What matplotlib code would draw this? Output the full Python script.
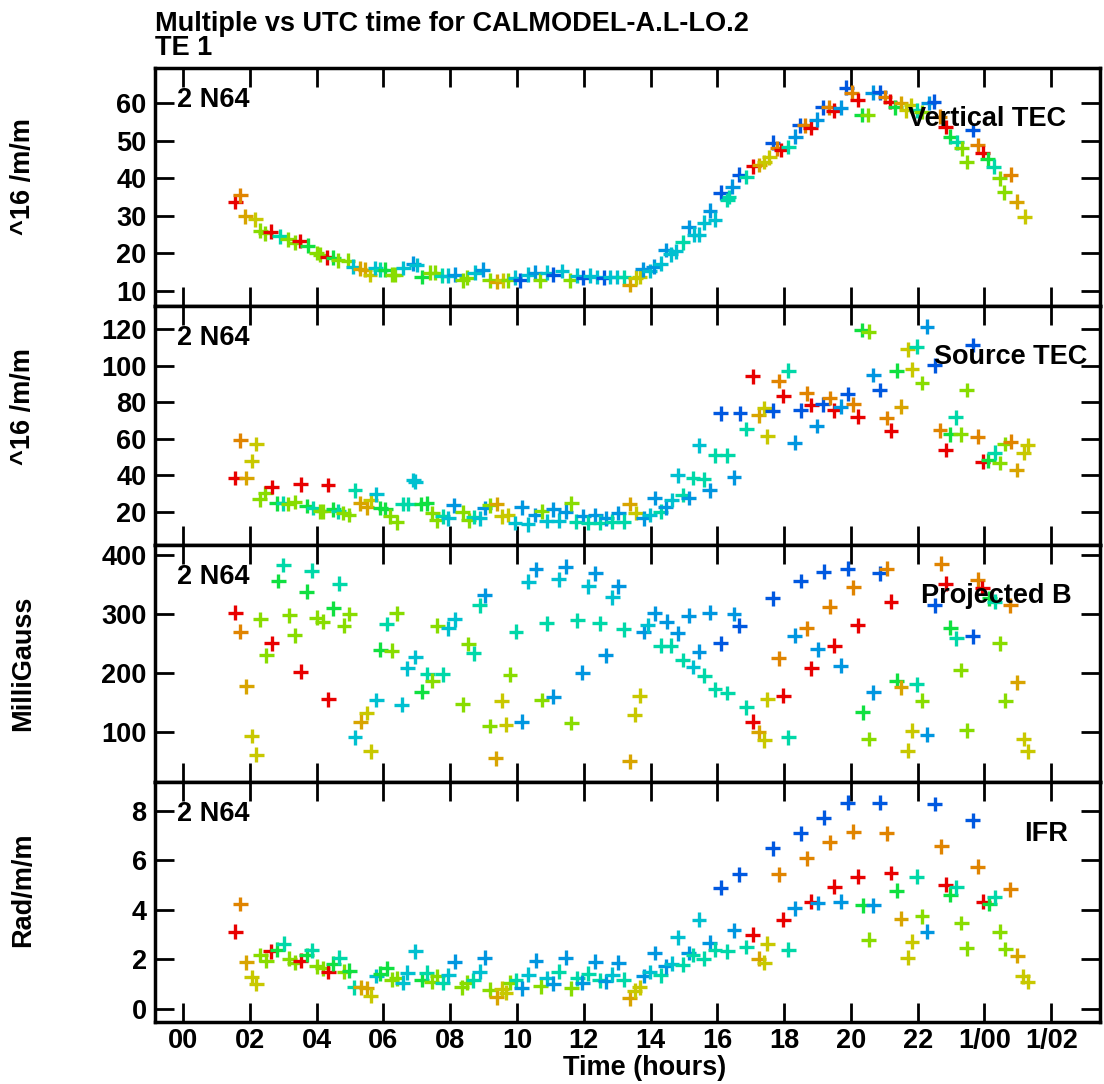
import matplotlib
matplotlib.use("Agg")
import matplotlib.pyplot as plt

plt.rcParams['font.family'] = ['Liberation Sans', 'DejaVu Sans']
plt.rcParams['font.weight'] = 'bold'

# one colour per source / baseline
palette = ['#e80000', '#e08400', '#d8a400', '#c8c800', '#88dc00',
           '#10e040', '#00d8a8', '#00c0d0', '#0096e0', '#0058e0']

# ---- Vertical TEC ----
vtec_t = [1.56, 1.71, 1.86, 2.16, 2.31, 2.46, 2.63, 2.90, 3.14, 3.35, 3.50, 3.74, 4.00, 4.10,
          4.31, 4.50, 4.64, 4.94, 5.10, 5.30, 5.45, 5.60, 5.75, 5.90, 6.05, 6.26, 6.35, 6.60,
          6.89, 7.00, 7.15, 7.40, 7.55, 7.75, 7.93, 8.14, 8.38, 8.50, 8.74, 8.98, 9.19, 9.40,
          9.58, 9.73, 9.94, 10.09, 10.33, 10.54, 10.69, 10.90,
          11.09, 11.35, 11.60, 11.80, 11.98, 12.20, 12.40, 12.60, 12.80, 13.00, 13.20, 13.38,
          13.56, 13.67, 13.77, 13.98, 14.10, 14.30, 14.46, 14.60, 14.76, 14.96, 15.14, 15.30,
          15.45, 15.60, 15.78, 15.93, 16.10, 16.30, 16.35, 16.45, 16.66, 16.87, 17.07, 17.25,
          17.40, 17.55, 17.66, 17.80, 17.92, 18.13, 18.33, 18.47, 18.62, 18.80, 18.98, 19.16,
          19.34, 19.49, 19.69, 19.86, 20.03, 20.20, 20.33, 20.50, 20.65, 20.87, 21.02, 21.17,
          21.33, 21.50, 21.65, 21.80, 21.97, 22.12, 22.33, 22.49, 22.67, 22.84, 22.97, 23.17,
          23.32, 23.47, 23.65, 23.80, 23.95, 24.10, 24.28, 24.46, 24.60, 24.79, 24.96, 25.20]
vtec_v = [33.7, 35.5, 29.9, 29.1, 26.0, 25.4, 25.8, 24.6, 23.8, 22.8, 23.3, 22.0, 20.1, 19.6,
          19.0, 18.8, 18.2, 18.0, 16.4, 15.9, 15.6, 14.3, 16.1, 15.6, 15.6, 14.3, 14.3, 16.1,
          17.2, 16.9, 13.7, 14.8, 14.8, 14.0, 14.0, 14.3, 12.9, 13.5, 14.8, 15.6, 12.9, 12.4,
          12.9, 12.9, 13.5, 12.9, 14.3, 14.8, 12.9, 14.8,
          14.3, 15.3, 12.9, 14.0, 13.5, 14.0, 13.7, 13.5, 13.7, 13.7, 13.7, 11.6,
          13.5, 13.7, 15.8, 15.3, 16.4, 17.2, 20.9, 19.8, 20.6, 23.0, 27.0, 24.9,
          24.9, 28.1, 31.3, 28.9, 36.1, 34.2, 35.0, 37.7, 40.9, 40.3, 43.2, 43.5,
          44.3, 45.6, 49.4, 48.0, 47.5, 48.3, 51.0, 54.1, 54.1, 53.4, 55.5, 58.9,
          58.9, 57.9, 58.7, 64.0, 62.7, 60.8, 56.8, 56.8, 62.7, 62.9, 61.6, 60.3,
          58.9, 60.0, 58.1, 59.4, 58.1, 57.6, 60.0, 60.3, 56.3, 53.6, 51.0, 49.6,
          48.0, 44.3, 52.8, 48.8, 46.7, 45.1, 43.0, 40.0, 36.3, 40.9, 33.7, 29.7]
vtec_c = [0, 1, 2, 3, 4, 4, 0, 6, 4, 4, 0, 5, 4, 4,
          0, 5, 4, 4, 7, 2, 2, 3, 7, 6, 5, 4, 4, 7,
          8, 7, 5, 4, 4, 6, 7, 8, 4, 4, 7, 8, 4, 2,
          3, 4, 7, 9, 7, 8, 4, 7,
          9, 7, 4, 7, 9, 7, 7, 9, 7, 7, 6, 2,
          3, 3, 8, 7, 8, 7, 8, 7, 7, 6, 8, 7,
          7, 7, 8, 7, 9, 6, 6, 8, 9, 6, 0, 2,
          3, 3, 9, 1, 0, 6, 8, 9, 1, 0, 8, 9,
          1, 0, 8, 9, 1, 0, 5, 4, 8, 9, 1, 0,
          5, 2, 3, 3, 6, 4, 8, 9, 1, 0, 5, 6,
          4, 4, 9, 1, 0, 5, 6, 4, 4, 1, 2, 3]

# ---- Source TEC ----
stec_t = [1.56, 1.71, 1.89, 2.06, 2.19, 2.30, 2.46, 2.66, 2.80, 3.00, 3.15, 3.35, 3.53, 3.70,
          3.90, 4.10, 4.20, 4.34, 4.50, 4.65, 4.80, 4.97, 5.15, 5.30, 5.50, 5.62, 5.78, 5.90,
          6.05, 6.20, 6.40, 6.58, 6.74, 6.89, 6.95, 7.14, 7.30, 7.47, 7.60, 7.78, 7.94, 8.11,
          8.37, 8.56, 8.71, 8.89, 9.04, 9.19, 9.39, 9.54, 9.73, 9.94, 10.14, 10.33, 10.54, 10.74,
          10.89, 11.09, 11.25, 11.46, 11.62, 11.78, 11.99, 12.14, 12.34, 12.50, 12.67, 12.86,
          13.04, 13.20, 13.38, 13.56, 13.80, 13.98, 14.13, 14.30, 14.46, 14.64, 14.82, 14.96,
          15.14, 15.27, 15.45, 15.59, 15.77, 15.93, 16.10, 16.30, 16.50, 16.68, 16.87, 17.06,
          17.24, 17.40, 17.50, 17.66, 17.84, 17.97, 18.13, 18.32, 18.50, 18.68, 18.82, 18.98,
          19.16, 19.37, 19.50, 19.69, 19.90, 20.07, 20.20, 20.32, 20.53, 20.67, 20.86, 21.07,
          21.20, 21.37, 21.50, 21.70, 21.83, 21.97, 22.13, 22.28, 22.51, 22.67, 22.84, 22.98,
          23.14, 23.29, 23.47, 23.65, 23.80, 23.95, 24.12, 24.31, 24.46, 24.61, 24.79, 24.97,
          25.17, 25.30]
stec_v = [38.6, 59.3, 38.6, 47.9, 57.2, 27.1, 30.4, 33.7, 24.9, 24.9, 24.4, 25.5, 35.3, 23.3,
          22.2, 20.5, 20.5, 34.8, 21.6, 20.5, 19.5, 18.4, 32.0, 24.9, 22.7, 26.6, 29.8, 22.2,
          21.6, 17.8, 14.5, 24.4, 24.4, 37.5, 36.5, 24.4, 24.9, 19.5, 15.6, 17.8, 16.7, 23.8,
          20.0, 15.6, 17.3, 16.7, 22.2, 23.8, 24.4, 17.8, 18.4, 14.0, 22.7, 13.4, 18.4, 20.5,
          15.1, 21.6, 15.2, 20.2, 24.9, 14.7, 17.8, 14.2, 18.4, 14.2, 16.7, 14.7,
          19.5, 14.7, 24.4, 19.5, 16.7, 18.4, 27.7, 20.2, 22.7, 26.6, 40.2, 29.3,
          27.7, 38.6, 56.6, 38.0, 32.0, 51.1, 74.1, 51.1, 39.1, 74.1, 65.4, 94.3,
          73.0, 76.8, 61.5, 75.4, 91.6, 83.4, 97.2, 57.9, 75.7, 85.0, 78.5, 67.0,
          79.0, 82.3, 75.7, 77.5, 84.5, 79.0, 72.1, 119.5, 118.5, 94.9, 86.7, 71.4,
          64.4, 97.2, 77.5, 109.0, 98.1, 110.3, 90.5, 121.3, 100.3, 64.8, 53.9, 62.6,
          71.9, 62.6, 86.7, 111.3, 61.2, 47.5, 48.4, 52.4, 46.8, 57.2, 58.4, 43.0,
          52.4, 56.6]
stec_c = [0, 1, 2, 3, 3, 4, 4, 0, 5, 6, 4, 4, 0, 5,
          6, 4, 4, 0, 5, 6, 4, 4, 6, 2, 2, 3, 7, 5,
          5, 4, 4, 6, 6, 7, 7, 5, 5, 4, 4, 6, 7, 8,
          4, 4, 6, 7, 8, 4, 2, 3, 3, 7, 8, 7, 8, 4,
          7, 8, 7, 8, 4, 6, 8, 6, 8, 6, 8, 6,
          8, 6, 2, 3, 8, 7, 8, 6, 8, 7, 7, 6,
          8, 6, 7, 6, 8, 6, 9, 6, 8, 9, 6, 0,
          2, 3, 3, 9, 1, 0, 6, 8, 9, 1, 0, 8,
          9, 1, 0, 8, 9, 1, 0, 5, 4, 8, 9, 1,
          0, 5, 2, 3, 3, 6, 4, 8, 9, 1, 0, 5,
          6, 4, 4, 9, 1, 0, 5, 6, 4, 4, 1, 2,
          3, 3]

# ---- Projected B ----
projb_t = [1.56, 1.71, 1.89, 2.06, 2.19, 2.31, 2.49, 2.66, 2.85, 3.00, 3.18, 3.35, 3.52, 3.70,
           3.85, 4.00, 4.18, 4.35, 4.50, 4.68, 4.82, 4.98, 5.15, 5.32, 5.50, 5.62, 5.78, 5.90,
           6.10, 6.25, 6.40, 6.55, 6.72, 6.95, 7.15, 7.32, 7.47, 7.62, 7.78, 7.94, 8.14, 8.37,
           8.54, 8.71, 8.89, 9.04, 9.19, 9.37, 9.54, 9.67, 9.79, 9.97, 10.14, 10.34, 10.57, 10.74,
           10.89, 11.09, 11.25, 11.46, 11.62, 11.81, 11.96, 12.14, 12.34, 12.48, 12.66, 12.86,
           13.04, 13.20, 13.38, 13.53, 13.67, 13.80, 13.92, 14.12, 14.30, 14.48, 14.61, 14.82,
           14.96, 15.14, 15.27, 15.45, 15.61, 15.77, 15.93, 16.10, 16.30, 16.50, 16.66, 16.87,
           17.06, 17.24, 17.40, 17.50, 17.66, 17.84, 17.97, 18.13, 18.32, 18.50, 18.68, 18.82,
           19.00, 19.18, 19.37, 19.50, 19.69, 19.90, 20.07, 20.20, 20.36, 20.53, 20.67, 20.86,
           21.07, 21.20, 21.37, 21.50, 21.70, 21.83, 21.97, 22.13, 22.28, 22.51, 22.70, 22.84,
           22.98, 23.16, 23.29, 23.47, 23.65, 23.80, 23.93, 24.14, 24.31, 24.46, 24.62, 24.77,
           24.98, 25.17, 25.30]
projb_v = [302, 270, 177, 93, 61, 291, 230, 250, 356, 383, 298, 264, 202, 338,
           373, 294, 287, 155, 310, 351, 280, 300, 91, 117, 132, 67, 154, 239,
           283, 238, 301, 146, 208, 227, 168, 198, 187, 280, 198, 276, 291, 147,
           249, 233, 315, 332, 110, 55, 153, 112, 197, 270, 117, 355, 376, 154,
           284, 160, 359, 380, 115, 289, 200, 347, 369, 284, 230, 328,
           347, 274, 50, 129, 161, 270, 281, 301, 246, 287, 246, 267,
           222, 297, 210, 236, 195, 302, 172, 250, 166, 300, 280, 142,
           117, 99, 86, 155, 327, 225, 161, 91, 263, 356, 276, 208,
           240, 372, 312, 246, 212, 377, 345, 281, 133, 88, 167, 369,
           377, 321, 187, 176, 68, 102, 181, 153, 95, 315, 385, 351,
           277, 259, 205, 103, 262, 358, 344, 327, 321, 250, 153, 315,
           184, 88, 67]
projb_c = [0, 1, 2, 3, 3, 4, 4, 0, 5, 6, 4, 4, 0, 5,
           6, 4, 4, 0, 5, 6, 4, 4, 7, 2, 3, 3, 7, 5,
           6, 4, 4, 7, 7, 7, 5, 6, 4, 4, 6, 7, 7, 4,
           4, 6, 6, 8, 4, 2, 3, 3, 4, 6, 8, 7, 8, 4,
           6, 8, 7, 8, 4, 6, 8, 7, 8, 6, 8, 7,
           8, 6, 2, 3, 3, 8, 7, 8, 6, 8, 6, 8,
           6, 8, 7, 8, 6, 8, 6, 9, 6, 8, 9, 6,
           0, 2, 3, 3, 9, 1, 0, 6, 8, 9, 1, 0,
           8, 9, 1, 0, 8, 9, 1, 0, 5, 4, 8, 9,
           1, 0, 5, 2, 3, 3, 6, 4, 8, 9, 1, 0,
           5, 6, 4, 4, 9, 1, 0, 5, 6, 4, 4, 1,
           2, 3, 3]

# ---- IFR ----
ifr_t = [1.56, 1.71, 1.89, 2.06, 2.19, 2.31, 2.49, 2.62, 2.82, 3.02, 3.18, 3.35, 3.52, 3.70,
         3.85, 4.00, 4.18, 4.35, 4.50, 4.68, 4.82, 4.98, 5.12, 5.32, 5.50, 5.62, 5.78, 5.90,
         6.10, 6.25, 6.40, 6.58, 6.72, 6.95, 7.15, 7.30, 7.45, 7.62, 7.78, 7.94, 8.14, 8.34,
         8.49, 8.69, 8.89, 9.04, 9.19, 9.39, 9.54, 9.67, 9.79, 9.97, 10.14, 10.34, 10.57, 10.71,
         10.89, 11.09, 11.25, 11.46, 11.62, 11.81, 11.96, 12.14, 12.34, 12.48, 12.66, 12.86,
         13.04, 13.20, 13.38, 13.53, 13.67, 13.80, 13.98, 14.12, 14.30, 14.46, 14.64, 14.82,
         14.96, 15.14, 15.27, 15.45, 15.59, 15.77, 15.93, 16.10, 16.30, 16.50, 16.66, 16.87,
         17.06, 17.24, 17.40, 17.50, 17.66, 17.84, 17.97, 18.13, 18.32, 18.50, 18.68, 18.82,
         19.00, 19.18, 19.37, 19.50, 19.69, 19.90, 20.07, 20.20, 20.36, 20.53, 20.67, 20.86,
         21.07, 21.20, 21.37, 21.50, 21.70, 21.83, 21.97, 22.13, 22.28, 22.51, 22.71, 22.84,
         22.98, 23.15, 23.30, 23.47, 23.65, 23.80, 23.96, 24.14, 24.31, 24.46, 24.62, 24.77,
         24.98, 25.15, 25.30]
ifr_v = [3.12, 4.24, 1.89, 1.28, 1.01, 2.18, 1.95, 2.32, 2.40, 2.63, 2.02, 1.86, 1.95, 2.18,
         2.36, 1.72, 1.64, 1.51, 1.82, 2.06, 1.51, 1.55, 0.88, 0.88, 0.84, 0.54, 1.33, 1.43,
         1.64, 1.18, 1.24, 1.05, 1.46, 2.32, 1.18, 1.46, 1.10, 1.33, 1.05, 1.35, 1.91, 0.88,
         1.05, 1.15, 1.51, 2.06, 0.78, 0.47, 0.81, 0.65, 1.05, 1.15, 0.84, 1.38, 1.95, 0.91,
         1.24, 1.01, 1.51, 2.06, 0.84, 1.24, 1.05, 1.43, 1.91, 1.15, 1.11, 1.38,
         1.86, 1.18, 0.43, 0.74, 0.88, 1.33, 1.49, 2.26, 1.35, 1.72, 1.82, 2.89,
         1.78, 2.26, 2.18, 3.61, 2.02, 2.67, 2.40, 4.90, 2.32, 3.17, 5.44, 2.50,
         3.00, 2.02, 1.86, 2.63, 6.49, 5.44, 3.61, 2.40, 4.07, 7.09, 6.09, 4.33,
         4.28, 7.72, 6.74, 4.94, 4.33, 8.33, 7.16, 5.35, 4.19, 2.80, 4.19, 8.33,
         7.09, 5.49, 4.77, 3.65, 2.06, 2.72, 5.35, 3.74, 3.12, 8.28, 6.57, 5.01,
         4.61, 4.92, 3.47, 2.45, 7.62, 5.74, 4.33, 4.24, 4.51, 3.12, 2.42, 4.84,
         2.14, 1.31, 1.09]
ifr_c = [0, 1, 2, 3, 3, 4, 4, 0, 5, 6, 4, 4, 0, 5,
         6, 4, 4, 0, 5, 6, 4, 5, 6, 2, 2, 3, 7, 5,
         5, 4, 4, 7, 7, 7, 5, 6, 4, 4, 6, 7, 8, 4,
         4, 6, 7, 8, 4, 2, 3, 3, 4, 6, 8, 7, 8, 4,
         7, 8, 6, 8, 4, 6, 8, 6, 8, 6, 8, 7,
         8, 6, 2, 3, 3, 8, 7, 8, 6, 8, 7, 7,
         6, 8, 6, 7, 6, 8, 6, 9, 6, 8, 9, 6,
         0, 2, 3, 3, 9, 1, 0, 6, 8, 9, 1, 0,
         8, 9, 1, 0, 8, 9, 1, 0, 5, 4, 8, 9,
         1, 0, 5, 2, 3, 3, 6, 4, 8, 9, 1, 0,
         5, 6, 4, 4, 9, 1, 0, 5, 6, 4, 4, 1,
         2, 3, 3]

hour_ticks = [0, 2, 4, 6, 8, 10, 12, 14, 16, 18, 20, 22, 24, 26]
hour_labels = ['00', '02', '04', '06', '08', '10', '12', '14', '16', '18', '20', '22',
               '1/00', '1/02']

panels = [
    (vtec_t, vtec_v, vtec_c, (6.0, 69.3), [10, 20, 30, 40, 50, 60], '^16 /m/m', 'Vertical TEC', 0.964, 177),
    (stec_t, stec_v, stec_c, (2.0, 132.6), [20, 40, 60, 80, 100, 120], '^16 /m/m', 'Source TEC', 0.987, 407),
    (projb_t, projb_v, projb_c, (15, 417), [100, 200, 300, 400], 'MilliGauss', 'Projected B', 0.970, 663),
    (ifr_t, ifr_v, ifr_c, (-0.53, 9.17), [0, 2, 4, 6, 8], 'Rad/m/m', 'IFR', 0.966, 890),
]

W, H = 1104, 1084
fs = 19.5
fig = plt.figure(figsize=(W / 100, H / 100), dpi=100)

# panel edges in pixels (top, bottom)
edges = [(68, 306), (306, 545), (545, 782), (782, 1022)]
left_px, right_px = 155, 1100

for i, (t, v, c, ylim, yt, ylab, name, name_x, ylab_y) in enumerate(panels):
    top, bot = edges[i]
    ax = fig.add_axes([left_px / W, 1 - bot / H, (right_px - left_px) / W, (bot - top) / H])
    ax.scatter(t, v, c=[palette[k] for k in c], marker='+', s=115, linewidths=2.4, zorder=2)
    ax.set_xlim(-0.84, 27.46)
    ax.set_ylim(*ylim)
    ax.set_yticks(yt)
    ax.set_xticks(hour_ticks)
    if i == 3:
        ax.set_xticklabels(hour_labels)
    else:
        ax.set_xticklabels([])
    ax.tick_params(direction='in', length=14, width=2, top=True, right=True,
                   labelsize=fs, pad=6)
    ax.tick_params(axis='x', pad=4)
    for sp in ax.spines.values():
        sp.set_linewidth(2.5)
    ax.text(0.023, 0.865, '2 N64', transform=ax.transAxes, fontsize=fs,
            fontweight='bold', va='center', ha='left', zorder=5)
    ax.text(name_x, 0.785, name, transform=ax.transAxes, fontsize=fs,
            fontweight='bold', va='center', ha='right', zorder=5)
    fig.text(23 / W, 1 - ylab_y / H, ylab, rotation=90, fontsize=fs,
             fontweight='bold', va='center', ha='center')

fig.text(155 / W, 1 - 31 / H, 'Multiple vs UTC time for CALMODEL-A.L-LO.2',
         fontsize=fs, fontweight='bold', va='baseline', ha='left')
fig.text(155 / W, 1 - 55 / H, 'TE 1',
         fontsize=fs, fontweight='bold', va='baseline', ha='left')
fig.text(645 / W, 1 - 1068 / H, 'Time (hours)', fontsize=fs, fontweight='bold',
         va='center', ha='center')

fig.savefig('out.png', dpi=100)
